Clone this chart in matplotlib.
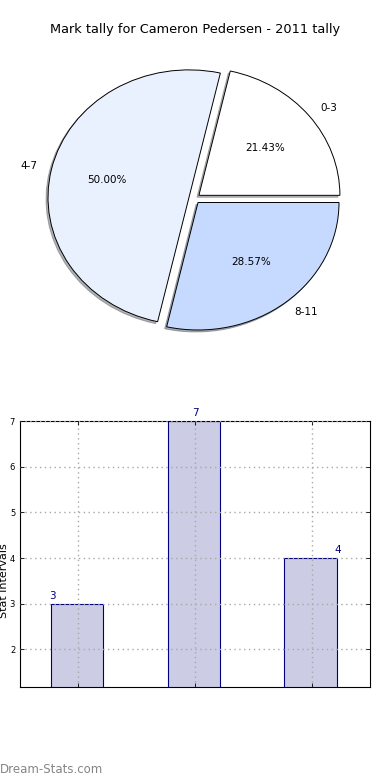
import matplotlib
matplotlib.use('Agg')
import matplotlib.pyplot as plt
import numpy as np

# data
title = "Mark tally for Cameron Pedersen - 2011 tally"
pie_labels = ['0-3', '4-7', '8-11']
pie_counts = [3, 7, 4]
pie_colors = ['#ffffff', '#eaf1fe', '#c6d9fe']

bar_values = [3, 7, 4]
y_ticks = [2, 3, 4, 5, 6, 7]

fig = plt.figure(figsize=(3.9, 7.8), dpi=100)

# pie chart
ax1 = fig.add_axes([0.0287, 0.533, 0.94, 0.425])
wedges, texts, autotexts = ax1.pie(
    pie_counts, labels=pie_labels, colors=pie_colors, autopct='%1.2f%%',
    explode=[0.04] * len(pie_counts),
    shadow=dict(ox=-0.01, oy=-0.011, shade=0.58), startangle=0,
    labeldistance=1.1, pctdistance=0.6,
    wedgeprops=dict(edgecolor='black', linewidth=0.7),
    textprops=dict(fontsize=7.5))
ax1.set_aspect('auto')
ax1.set_xlim(-1.3, 1.3)
ax1.set_ylim(-1.3, 1.3)
fig.text(0.5, 0.962, title, ha='center', va='center', fontsize=9.3)

# bar chart
ax2 = fig.add_axes([0.0513, 0.119, 0.897, 0.341])
x = np.arange(len(bar_values))
w = 0.45
ax2.bar(x - 0.01, bar_values, width=w, color='#cccce5',
        edgecolor='#000080', linewidth=0.8, zorder=2)
ax2.set_xlim(-0.5, 2.5)
ax2.set_ylim(1.17, 7)
ax2.set_yticks(y_ticks)
ax2.set_xticks(x)
ax2.set_xticklabels([])
ax2.tick_params(axis='both', direction='in', top=True, right=True,
                labelsize=6, length=3, width=0.6)
ax2.grid(True, linestyle=(0, (1, 2.5)), color='#a8a8a8', linewidth=1.0, zorder=3)
ax2.set_axisbelow(False)
for spine in ax2.spines.values():
    spine.set_linewidth(0.8)

# value labels sit left/center/right across the bars
for i, v in enumerate(bar_values):
    lx = i - w / 2 + i * w / 2
    ax2.annotate(str(v), (lx, v), xytext=(0, 2), textcoords='offset points',
                 ha='center', va='bottom', fontsize=7.5, color='#000080',
                 annotation_clip=False)

fig.text(0.011, (780 - 581) / 780, 'Stat intervals', rotation=90,
         ha='center', va='center', fontsize=8)
fig.text(0.0, 0.013, 'Dream-Stats.com', ha='left', va='center',
         fontsize=8.5, color='#858585')

fig.savefig('out.png', dpi=100)
